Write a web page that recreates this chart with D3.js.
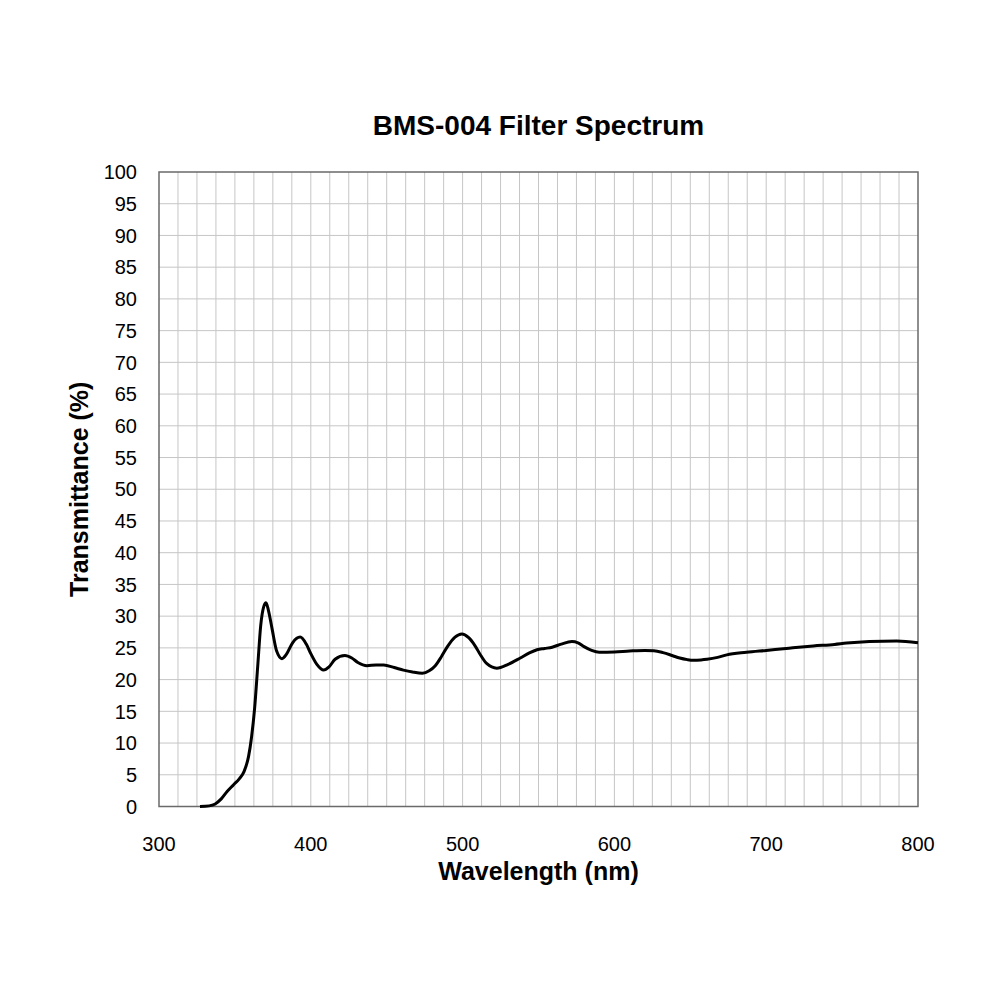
<!DOCTYPE html>
<html>
<head>
<meta charset="utf-8">
<script src="https://cdn.jsdelivr.net/npm/d3@7"></script>
<style>
  body { margin: 0; background: #fff; }
  text { font-family: "Liberation Sans", Arial, sans-serif; fill: #000; }
</style>
</head>
<body>
<div id="chart"></div>
<script>
// Spectrum
const wavelength = [327, 333, 337, 341, 345, 349, 353, 356, 359, 361, 363, 365, 367, 369, 370.5, 372, 374.5, 377.5,
  381, 384, 388, 393, 397, 400, 404, 408.5, 412, 416, 422.5, 427, 431, 437, 443, 448, 455, 461, 467, 473.5,
  478, 482, 486, 490, 495, 499.5, 504, 508, 512, 516, 522.5, 530, 538, 544, 549, 554, 559, 565, 572, 576,
  580, 585, 590, 600, 610, 620, 626, 632, 638, 643, 648, 652, 657, 661, 668, 674, 687, 700, 715, 731, 745,
  753, 768, 786, 800];
const transmittance = [0, 0.1, 0.4, 1.2, 2.4, 3.4, 4.4, 5.5, 7.9, 11, 15.5, 22, 28.5, 31.5, 32.1, 31, 28, 24.5,
  23.3, 24, 25.8, 26.7, 25.6, 24.1, 22.4, 21.5, 22, 23.2, 23.8, 23.4, 22.7, 22.2, 22.3, 22.3, 21.9, 21.5, 21.2, 21.0,
  21.4, 22.2, 23.6, 25.2, 26.7, 27.2, 26.6, 25.4, 23.8, 22.5, 21.8, 22.4, 23.4, 24.2, 24.7, 24.9, 25.1, 25.6, 26.0, 25.8,
  25.2, 24.6, 24.3, 24.35, 24.5, 24.6, 24.55, 24.25, 23.8, 23.4, 23.15, 23.05, 23.1, 23.2, 23.5, 23.9, 24.3, 24.6, 24.95, 25.3, 25.55,
  25.75, 26.0, 26.1, 25.8];
const xTicks = [300, 400, 500, 600, 700, 800];
const yTicks = [0, 5, 10, 15, 20, 25, 30, 35, 40, 45, 50, 55, 60, 65, 70, 75, 80, 85, 90, 95, 100];
const xGridStep = 12.5;

const margin = {top: 172, right: 82, bottom: 193.5, left: 159};
const W = 1000, H = 1000;
const width = W - margin.left - margin.right;
const height = H - margin.top - margin.bottom;

const svg = d3.select("#chart").append("svg")
  .attr("width", W).attr("height", H);
const g = svg.append("g")
  .attr("transform", `translate(${margin.left},${margin.top})`);

const x = d3.scaleLinear().domain([300, 800]).range([0, width]);
const y = d3.scaleLinear().domain([0, 100]).range([height, 0]);

// grid
g.append("g").selectAll("line")
  .data(d3.range(300 + xGridStep, 800, xGridStep))
  .enter().append("line")
  .attr("x1", d => x(d)).attr("x2", d => x(d))
  .attr("y1", 0).attr("y2", height)
  .style("stroke", "#c6c6c6").style("stroke-width", 1);

g.append("g").selectAll("line")
  .data(yTicks.slice(1, -1))
  .enter().append("line")
  .attr("x1", 0).attr("x2", width)
  .attr("y1", d => y(d)).attr("y2", d => y(d))
  .style("stroke", "#c6c6c6").style("stroke-width", 1);

// frame
g.append("rect")
  .attr("width", width).attr("height", height)
  .style("fill", "none").style("stroke", "#6a6a6a").style("stroke-width", 1.5);

// tick labels
g.append("g").selectAll("text")
  .data(yTicks)
  .enter().append("text")
  .attr("x", -22).attr("y", d => y(d)).attr("dy", "0.36em")
  .attr("text-anchor", "end")
  .style("font-size", "20px")
  .text(d => d);

g.append("g").selectAll("text")
  .data(xTicks)
  .enter().append("text")
  .attr("x", d => x(d)).attr("y", height + 44)
  .attr("text-anchor", "middle")
  .style("font-size", "20px")
  .text(d => d);

// curve
const pts = wavelength.map((w, i) => [w, transmittance[i]]);
const line = d3.line()
  .curve(d3.curveMonotoneX)
  .x(d => x(d[0]))
  .y(d => y(d[1]));

g.append("path")
  .datum(pts)
  .attr("d", line)
  .style("fill", "none")
  .style("stroke", "#000")
  .style("stroke-width", 3)
  .style("stroke-linejoin", "round");

// titles
svg.append("text")
  .attr("x", margin.left + width / 2).attr("y", 135)
  .attr("text-anchor", "middle")
  .style("font-size", "28px").style("font-weight", "bold")
  .text("BMS-004 Filter Spectrum");

svg.append("text")
  .attr("x", margin.left + width / 2).attr("y", 880)
  .attr("text-anchor", "middle")
  .style("font-size", "25px").style("font-weight", "bold")
  .text("Wavelength (nm)");

svg.append("text")
  .attr("transform", `translate(88,${margin.top + height / 2}) rotate(-90)`)
  .attr("text-anchor", "middle")
  .style("font-size", "25px").style("font-weight", "bold")
  .text("Transmittance (%)");
</script>
</body>
</html>
